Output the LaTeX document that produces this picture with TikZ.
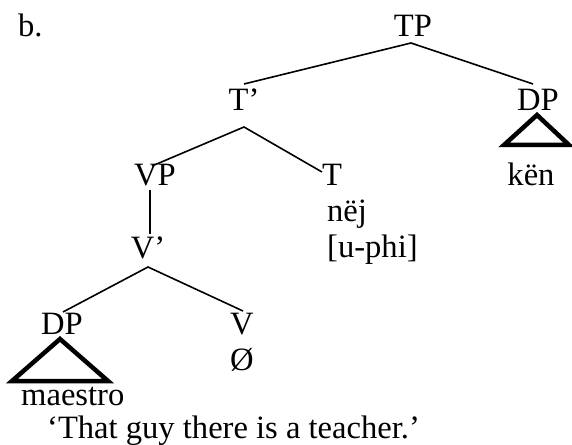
\documentclass[tikz,border=0pt]{standalone}
\usepackage{fontspec}
\setmainfont{Liberation Serif}
\begin{document}
\begin{tikzpicture}[x=1bp,y=-1bp,
  lab/.style={inner sep=0pt,anchor=base,font=\fontsize{32.7}{38}\selectfont},
  labl/.style={lab,anchor=base west},
  branch/.style={line width=1.6bp},
  roof/.style={line width=4.5bp,line join=miter}]
\useasboundingbox (0,0) rectangle (572,445);
% labels
\node[labl] (b) at (18,37) {b.};
\node[lab] (TP) at (413,37) {TP};
\node[lab] (Tbar) at (244,111) {T’};
\node[lab] (DPr) at (538,111) {DP};
\node[lab] (VP) at (155,186) {VP};
\node[labl] (T) at (322,186) {T};
\node[lab] (ken) at (531,186) {kën};
\node[labl] (nej) at (327,222) {nëj};
\node[labl] (uphi) at (327,258) {[u-phi]};
\node[lab] (Vbar) at (148,259) {V’};
\node[lab] (DPl) at (62,334) {DP};
\node[lab] (V) at (242,334) {V};
\node[lab] (null) at (242,370) {Ø};
\node[labl] (maestro) at (21,405) {maestro};
\node[labl] (gloss) at (47,438) {‘That guy there is a teacher.’};
% connector points
\coordinate (TPb) at (411,43);
\coordinate (TbarT) at (244,84);
\coordinate (DPrT) at (533,84);
\coordinate (Tbarb) at (244,127);
\coordinate (VPt) at (152,166);
\coordinate (Tt) at (322,172);
\coordinate (VPb) at (150,190);
\coordinate (Vbart) at (150,234);
\coordinate (Vbarb) at (148,267);
\coordinate (DPlt) at (63,312);
\coordinate (Vt) at (243,311);
% branches
\draw[branch] (TbarT) -- (TPb) -- (DPrT);
\draw[branch] (VPt) -- (Tbarb) -- (Tt);
\draw[branch] (VPb) -- (Vbart);
\draw[branch] (DPlt) -- (Vbarb) -- (Vt);
% roofs
\draw[roof] (537,115) -- (569,145) -- (504,145) -- cycle;
\draw[roof] (60,339) -- (108,381) -- (12,381) -- cycle;
\end{tikzpicture}
\end{document}
